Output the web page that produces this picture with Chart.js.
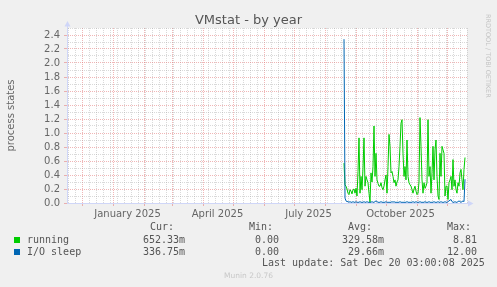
<!DOCTYPE html>
<html>
<head>
<meta charset="utf-8">
<script src="https://cdn.jsdelivr.net/npm/chart.js@4"></script>
<style>
  html, body { margin: 0; padding: 0; background: #f0f0f0; }
  #wrap { position: relative; width: 497px; height: 287px; overflow: hidden; font-family: 'DejaVu Sans', sans-serif; color: #666; }
  canvas { position: absolute; left: 0; top: 0; }
  .t { position: absolute; white-space: pre; line-height: 12px; }
  .mono { font-family: 'DejaVu Sans Mono', monospace; font-size: 10px; color: #555; }
  .sq { position: absolute; width: 6px; height: 6px; }
</style>
</head>
<body>
<div id="wrap">
  <canvas id="c" width="497" height="287"></canvas>
  <div class="t" style="left:0;width:497px;top:12px;text-align:center;font-size:13px;line-height:16px;color:#555">VMstat - by year</div>
  <div class="t" style="left:484px;top:14px;writing-mode:vertical-rl;font-size:6.5px;line-height:8px;color:#c4c4c4">RRDTOOL / TOBI OETIKER</div>

  <div class="t mono" style="left:150px;top:221px">Cur:</div>
  <div class="t mono" style="left:249px;top:221px">Min:</div>
  <div class="t mono" style="left:348px;top:221px">Avg:</div>
  <div class="t mono" style="left:447px;top:221px">Max:</div>

  <div class="sq" style="left:14px;top:237px;background:#00cc00"></div>
  <div class="t mono" style="left:27px;top:234px">running</div>
  <div class="t mono" style="left:143px;top:234px">652.33m</div>
  <div class="t mono" style="left:255px;top:234px">0.00</div>
  <div class="t mono" style="left:342px;top:234px">329.58m</div>
  <div class="t mono" style="left:453px;top:234px">8.81</div>

  <div class="sq" style="left:14px;top:249px;background:#0066b3"></div>
  <div class="t mono" style="left:27px;top:246px">I/O sleep</div>
  <div class="t mono" style="left:143px;top:246px">336.75m</div>
  <div class="t mono" style="left:255px;top:246px">0.00</div>
  <div class="t mono" style="left:348px;top:246px">29.66m</div>
  <div class="t mono" style="left:447px;top:246px">12.00</div>

  <div class="t mono" style="left:262px;top:257px">Last update: Sat Dec 20 03:00:08 2025</div>
  <div class="t" style="left:0;width:497px;top:271px;text-align:center;font-size:7.5px;line-height:10px;color:#c8c8c8">Munin 2.0.76</div>
</div>
<script>
// ── Data (one value per day, starting 2025-08-20) ──

const RUNNING = [
  0.57, 0.26, 0.24, 0.20, 0.14, 0.12, 0.19, 0.17, 0.13, 0.19,
  0.20, 0.14, 0.21, 0.10, 0.45, 0.93, 0.14, 0.38, 0.19, 0.50,
  0.93, 0.24, 0.38, 0.33, 0.29, 0.14, 0.01, 0.43, 0.30, 0.52,
  1.10, 0.38, 0.71, 0.33, 0.28, 0.24, 0.24, 0.29, 0.22, 0.19,
  0.24, 0.33, 0.40, 0.14, 0.52, 0.98, 0.81, 0.43, 0.45, 0.38,
  0.29, 0.33, 0.24, 0.30, 0.33, 0.52, 0.81, 1.14, 1.19, 0.71,
  0.38, 0.52, 0.33, 0.90, 0.38, 0.29, 0.26, 0.24, 0.19, 0.14,
  0.20, 0.24, 0.17, 0.12, 0.14, 0.30, 1.22, 0.81, 0.33, 0.14,
  0.29, 0.21, 0.24, 0.29, 1.19, 0.38, 0.52, 0.14, 0.43, 0.81,
  0.33, 0.76, 0.90, 0.38, 0.10, 0.05, 0.71, 0.38, 0.81, 0.76,
  0.71, 0.10, 0.24, 0.24, 0.05, 0.29, 0.33, 0.38, 0.19, 0.62,
  0.24, 0.33, 0.19, 0.14, 0.29, 0.24, 0.43, 0.48, 0.33, 0.19,
  0.48, 0.65
];

const IO_SLEEP = [
  2.34, 0.07, 0.03, 0.02, 0.02, 0.01, 0.02, 0.01, 0.01, 0.02,
  0.01, 0.01, 0.02, 0.01, 0.01, 0.01, 0.02, 0.01, 0.01, 0.01,
  0.02, 0.01, 0.01, 0.02, 0.01, 0.01, 0.01, 0.01, 0.02, 0.01,
  0.01, 0.02, 0.03, 0.02, 0.01, 0.01, 0.01, 0.02, 0.01, 0.01,
  0.01, 0.01, 0.02, 0.01, 0.01, 0.01, 0.01, 0.01, 0.02, 0.01,
  0.02, 0.01, 0.01, 0.01, 0.01, 0.01, 0.02, 0.01, 0.01, 0.01,
  0.01, 0.01, 0.01, 0.02, 0.01, 0.01, 0.01, 0.01, 0.01, 0.02,
  0.01, 0.01, 0.02, 0.01, 0.01, 0.01, 0.02, 0.01, 0.01, 0.01,
  0.01, 0.02, 0.01, 0.01, 0.01, 0.02, 0.01, 0.01, 0.01, 0.01,
  0.02, 0.01, 0.01, 0.01, 0.02, 0.01, 0.01, 0.02, 0.01, 0.01,
  0.01, 0.02, 0.01, 0.01, 0.02, 0.03, 0.04, 0.05, 0.02, 0.01,
  0.01, 0.02, 0.01, 0.01, 0.02, 0.03, 0.02, 0.01, 0.02, 0.03,
  0.02, 0.34
];

const X_LABELS = ['January 2025', 'April 2025', 'July 2025', 'October 2025'];
const X_LABEL_MONTHS = [[2025, 0], [2025, 3], [2025, 6], [2025, 9]];
const Y_MAX = 2.5;

// ── Time helpers (x axis = days since 2024-11-16) ──

const DAY = 86400000;
const START = Date.UTC(2024, 10, 16);
const dayOf = (y, m, d) => (Date.UTC(y, m, d) - START) / DAY;
const X_MAX = 400;
const FIRST_DAY = dayOf(2025, 7, 20);

const monthStarts = new Set();
for (let m = 0; ; m++) {
  const d = dayOf(2024, 11 + m, 1);
  if (d > X_MAX) break;
  monthStarts.add(d);
}
const labelAt = new Map(X_LABEL_MONTHS.map(([y, m], i) => [dayOf(y, m, 15) + 0.5, X_LABELS[i]]));

const RED = 'rgba(225,110,110,0.5)';
const GRAY = 'rgba(160,160,160,0.4)';
const AXIS = '#cfd6f8';

const toPoints = arr => arr.map((v, i) => ({ x: FIRST_DAY + i, y: v }));

// ── Plugins ──

const canvasBg = {
  id: 'canvasBg',
  beforeDraw(chart) {
    const { ctx, chartArea: a } = chart;
    ctx.save();
    ctx.fillStyle = '#fff';
    ctx.fillRect(a.left, a.top, a.right - a.left, a.bottom - a.top);
    ctx.restore();
  }
};

const arrows = {
  id: 'arrows',
  afterDraw(chart) {
    const { ctx, chartArea: { left, top, right, bottom } } = chart;
    const x = Math.round(left) + 0.5, y = Math.round(bottom) + 0.5;
    ctx.save();
    ctx.strokeStyle = AXIS;
    ctx.fillStyle = AXIS;
    ctx.lineWidth = 1;
    ctx.beginPath();
    ctx.moveTo(x, top); ctx.lineTo(x, top - 3);
    ctx.moveTo(right, y); ctx.lineTo(right + 2, y);
    ctx.stroke();
    ctx.beginPath();
    ctx.moveTo(x - 3, top - 1.5); ctx.lineTo(x + 3, top - 1.5); ctx.lineTo(x, top - 7); ctx.closePath();
    ctx.fill();
    ctx.beginPath();
    ctx.moveTo(right + 1, y - 3); ctx.lineTo(right + 1, y + 3); ctx.lineTo(right + 6.5, y); ctx.closePath();
    ctx.fill();
    ctx.restore();
  }
};

// ── Chart ──

new Chart(document.getElementById('c'), {
  type: 'line',
  data: {
    datasets: [
      { label: 'I/O sleep', data: toPoints(IO_SLEEP), borderColor: '#0066b3', borderWidth: 1, pointRadius: 0, tension: 0, fill: false },
      { label: 'running', data: toPoints(RUNNING), borderColor: '#00cc00', borderWidth: 1, pointRadius: 0, tension: 0, fill: false },
    ],
  },
  options: {
    responsive: false,
    animation: false,
    devicePixelRatio: 1,
    layout: { padding: { top: 28, right: 30, left: 0, bottom: 0 } },
    plugins: { legend: { display: false }, tooltip: { enabled: false }, title: { display: false } },
    scales: {
      x: {
        type: 'linear', min: 0, max: X_MAX,
        afterFit: s => { s.height = 84; },
        afterBuildTicks: s => {
          const ticks = [];
          for (let d = 0; d <= X_MAX; d++) {
            if (monthStarts.has(d) || d % 7 === 1) ticks.push({ value: d });
          }
          labelAt.forEach((_, v) => ticks.push({ value: v }));
          s.ticks = ticks.sort((a, b) => a.value - b.value);
        },
        ticks: {
          autoSkip: false, maxRotation: 0, minRotation: 0, padding: 2,
          color: '#666', font: { family: 'DejaVu Sans', size: 10 },
          callback: v => labelAt.get(v) || '',
        },
        grid: {
          tickLength: 3,
          color: c => labelAt.has(c.tick.value) ? 'transparent' : (monthStarts.has(c.tick.value) ? RED : GRAY),
          tickColor: c => monthStarts.has(c.tick.value) ? RED : 'transparent',
        },
        border: { color: AXIS, dash: [1, 1] },
      },
      y: {
        type: 'linear', min: 0, max: Y_MAX,
        afterFit: s => { s.width = 67; },
        afterBuildTicks: s => {
          s.ticks = Array.from({ length: 26 }, (_, k) => ({ value: k / 10 }));
        },
        ticks: {
          autoSkip: false, padding: 4, color: '#666', font: { family: 'DejaVu Sans', size: 10 },
          callback: v => {
            const k = Math.round(v * 10);
            return k % 2 === 0 && k <= 24 ? v.toFixed(1) : '';
          },
        },
        grid: {
          tickLength: 3,
          color: c => Math.round(c.tick.value * 10) % 2 === 0 ? RED : GRAY,
          tickColor: c => Math.round(c.tick.value * 10) % 2 === 0 ? RED : 'transparent',
        },
        border: { color: AXIS, dash: [1, 1] },
        title: {
          display: true, text: 'process states', color: '#666',
          font: { family: 'DejaVu Sans', size: 10 }, padding: { top: 5, bottom: 0 },
        },
      },
    },
  },
  plugins: [canvasBg, arrows],
});
</script>
</body>
</html>
